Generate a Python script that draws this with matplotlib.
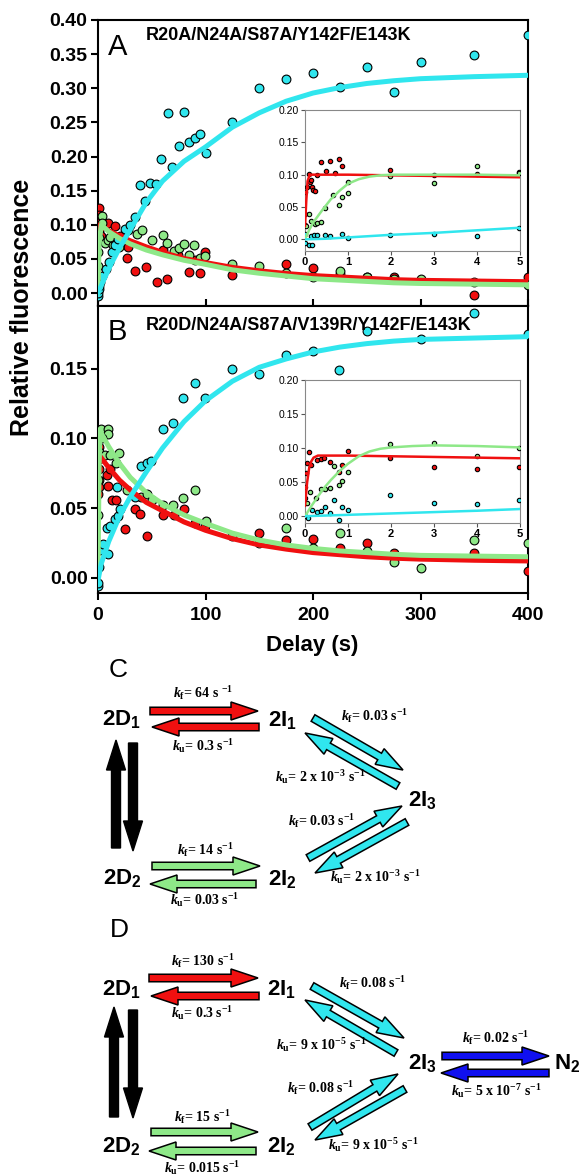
import matplotlib
matplotlib.use("Agg")
import matplotlib.pyplot as plt
from matplotlib.patches import FancyArrow

plt.rcParams['font.family'] = ['Liberation Sans', 'DejaVu Sans']
plt.rcParams['mathtext.fontset'] = 'custom'
plt.rcParams['mathtext.it'] = 'Liberation Serif:italic:bold'
plt.rcParams['mathtext.rm'] = 'Liberation Serif:bold'
plt.rcParams['mathtext.bf'] = 'Liberation Serif:bold'
plt.rcParams['mathtext.sf'] = 'Liberation Sans:bold'

RED = '#f01010'
GREEN = '#8ee888'
CYAN = '#30e6ee'
BLUE = '#1010f0'

# ---------------- panel A (R20A/N24A/S87A/Y142F/E143K) ----------------
a_cyan_x = [0, 0, 0.5, 1, 2, 4, 7, 10, 13, 16, 19, 25, 30, 34, 39, 44, 48, 54, 59, 65, 69, 75,
            80, 85, 90, 95, 100, 125, 150, 175, 200, 225, 250, 275, 300, 350, 400]
a_cyan_y = [-0.005, 0.0, 0.006, 0.010, 0.016, 0.025, 0.035, 0.045, 0.060, 0.070, 0.079, 0.094,
            0.099, 0.112, 0.158, 0.135, 0.161, 0.160, 0.197, 0.264, 0.184, 0.215, 0.265, 0.221,
            0.227, 0.233, 0.205, 0.251, 0.300, 0.314, 0.323, 0.302, 0.331, 0.294, 0.339, 0.348, 0.378]
a_red_x = [0.5, 1, 0, 0.5, 0, 1.5, 3, 9.6, 15.8, 20.5, 22, 26.7, 28.2, 34.4, 44.3, 54.6, 64.5, 60.8,
           74.7, 85, 90.2, 95.2, 99.5, 124.3, 174.5, 200, 225, 250, 275, 350, 400]
a_red_y = [0.125, 0.115, 0.103, 0.088, 0.078, 0.095, 0.083, 0.103, 0.098, 0.083, 0.073, 0.051, 0.068,
           0.032, 0.038, 0.016, 0.021, 0.063, 0.056, 0.031, 0.049, 0.030, 0.060, 0.027, 0.043,
           0.037, 0.028, 0.024, 0.023, -0.003, 0.024]
a_green_x = [0, 0, 0, 0.5, 4, 3.4, 6.5, 9, 14.3, 15.8, 11, 20, 28.2, 36, 40.6, 50, 60.8, 64.5, 70.4,
             75.3, 80.3, 85, 89.3, 94.9, 99.5, 124.3, 149.7, 174.5, 200, 225, 250, 275, 300, 350, 400]
a_green_y = [0.02, 0.04, 0.06, 0.08, 0.113, 0.103, 0.073, 0.078, 0.071, 0.078, 0.082, 0.068, 0.093,
             0.087, 0.092, 0.077, 0.085, 0.073, 0.061, 0.066, 0.072, 0.055, 0.071, 0.051, 0.054,
             0.043, 0.039, 0.029, 0.024, 0.033, 0.023, 0.021, 0.021, 0.016, 0.012]

a_fit_red_x = [0, 1, 3, 10, 20, 30, 45, 60, 80, 100, 125, 150, 175, 200, 225, 250, 275, 300, 350, 400]
a_fit_red_y = [0.02, 0.100, 0.099, 0.092, 0.084, 0.077, 0.068, 0.060, 0.051, 0.045, 0.038, 0.033,
               0.029, 0.026, 0.024, 0.022, 0.020, 0.019, 0.018, 0.017]
a_fit_green_x = [0, 1, 3, 10, 20, 30, 45, 60, 80, 100, 125, 150, 175, 200, 225, 250, 275, 300, 350, 400]
a_fit_green_y = [0, 0.07, 0.100, 0.090, 0.080, 0.072, 0.063, 0.056, 0.048, 0.042, 0.034, 0.029,
                 0.025, 0.021, 0.019, 0.017, 0.015, 0.014, 0.013, 0.012]
a_fit_cyan_x = [0, 5, 12, 20, 30, 45, 60, 80, 100, 125, 150, 175, 200, 225, 250, 275, 300, 350, 400]
a_fit_cyan_y = [0.0, 0.018, 0.042, 0.066, 0.093, 0.133, 0.164, 0.193, 0.214, 0.243, 0.264, 0.281,
                0.293, 0.301, 0.307, 0.311, 0.314, 0.317, 0.319]

# inset A (0-5 s)
ia_red_x = [0, 0, 0, 0.05, 0.09, 0.12, 0.14, 0.16, 0.19, 0.23, 0.29, 0.38, 0.48, 0.58, 0.69, 0.78,
            0.87, 1.98, 2.99, 3.99, 4.98]
ia_red_y = [0.022, 0.039, 0.0725, 0.081, 0.101, 0.088, 0.092, 0.081, 0.076, 0.074, 0.0995, 0.120,
            0.105, 0.121, 0.102, 0.124, 0.114, 0.108, 0.099, 0.101, 0.1036]
ia_green_x = [0.02, 0.09, 0.13, 0.23, 0.29, 0.37, 0.47, 0.64, 0.78, 0.87, 0.99, 0.99, 1.98, 2.99,
              3.99, 4.98]
ia_green_y = [0.021, 0.039, 0.0285, 0.024, 0.026, 0.027, 0.048, 0.068, 0.053, 0.066, 0.071, 0.088,
              0.098, 0.0865, 0.114, 0.102]
ia_cyan_x = [0, 0, 0.09, 0.17, 0.13, 0.2, 0.29, 0.47, 0.58, 0.87, 0.99, 1.98, 2.99, 3.99, 4.98]
ia_cyan_y = [0.008, -0.005, -0.008, -0.009, 0.005, 0.007, 0.006, 0.0067, 0.0057, 0.0088, 0.0026,
             0.0067, 0.0088, 0.0047, 0.018]
ia_fit_red_x = [0, 0.03, 0.06, 0.1, 0.15, 0.3, 1, 2, 3, 4, 5]
ia_fit_red_y = [0.02, 0.06, 0.09, 0.098, 0.100, 0.100, 0.100, 0.099, 0.098, 0.097, 0.096]
ia_fit_green_x = [0, 0.1, 0.2, 0.4, 0.6, 0.8, 1.0, 1.25, 1.5, 1.75, 2, 3, 4, 5]
ia_fit_green_y = [0, 0.015, 0.027, 0.045, 0.062, 0.075, 0.086, 0.093, 0.097, 0.099, 0.100, 0.100,
                  0.100, 0.099]
ia_fit_cyan_x = [0, 0.5, 1, 2, 3, 4, 5]
ia_fit_cyan_y = [0.0, 0.001, 0.003, 0.007, 0.010, 0.014, 0.018]

# ---------------- panel B (R20D/N24A/S87A/V139R/Y142F/E143K) ----------------
b_cyan_x = [0, 0, 0.5, 1.9, 5, 9.6, 8, 11.2, 15.8, 18.9, 20.5, 17.4, 34.4, 40, 45.3, 49.6, 60, 69.4,
            79.5, 90, 99.6, 124.6, 149.6, 175, 200, 224.6, 250, 300, 350, 400]
b_cyan_y = [-0.006, -0.004, 0.008, 0.020, 0.024, 0.017, 0.036, 0.037, 0.042, 0.044, 0.049, 0.065,
            0.058, 0.080, 0.082, 0.084, 0.107, 0.111, 0.129, 0.140, 0.129, 0.150, 0.146, 0.160,
            0.163, 0.149, 0.177, 0.171, 0.190, 0.175]
b_red_x = [0.5, 0.5, 0.5, 0.5, 0.5, 0, 8, 8.9, 12.7, 16.4, 11, 25, 34.4, 39, 45.3, 60.8, 70.7, 80.3,
           90.2, 99.5, 149.7, 174.8, 200, 225, 250, 275, 350, 400]
b_red_y = [0.094, 0.085, 0.078, 0.070, 0.065, 0.060, 0.074, 0.066, 0.056, 0.056, 0.078, 0.035, 0.049,
           0.046, 0.030, 0.045, 0.045, 0.049, 0.039, 0.037, 0.032, 0.027, 0.028, 0.021, 0.025,
           0.018, 0.018, 0.005]
b_green_x = [0, 0, 0, 0.5, 2.8, 9, 9.6, 4, 6.5, 11.2, 19.5, 16.4, 26.7, 40, 45.3, 50, 60.8, 70, 79.4,
             90.2, 100.4, 124.3, 149.7, 174.8, 200, 225, 250, 275, 300, 350, 400]
b_green_y = [0.02, 0.045, 0.07, 0.09, 0.107, 0.107, 0.103, 0.100, 0.088, 0.088, 0.0895, 0.082, 0.063,
             0.058, 0.060, 0.056, 0.052, 0.052, 0.057, 0.063, 0.041, 0.030, 0.025, 0.036, 0.021,
             0.032, 0.019, 0.011, 0.007, 0.027, 0.025]

b_fit_red_x = [0, 1, 10, 20, 30, 45, 60, 80, 100, 125, 150, 175, 200, 225, 250, 275, 300, 350, 400]
b_fit_red_y = [0.06, 0.088, 0.079, 0.070, 0.063, 0.054, 0.048, 0.040, 0.034, 0.028, 0.0235, 0.0205,
               0.018, 0.0165, 0.015, 0.014, 0.0133, 0.0125, 0.012]
b_fit_green_x = [0, 1, 2, 10, 20, 30, 45, 60, 80, 100, 125, 150, 175, 200, 225, 250, 275, 300, 350, 400]
b_fit_green_y = [0, 0.08, 0.105, 0.094, 0.082, 0.072, 0.061, 0.053, 0.045, 0.039, 0.032, 0.027,
                 0.0235, 0.021, 0.0192, 0.018, 0.0168, 0.016, 0.0155, 0.015]
b_fit_cyan_x = [0, 3, 10, 20, 30, 45, 60, 80, 100, 125, 150, 175, 200, 225, 250, 275, 300, 350, 400]
b_fit_cyan_y = [-0.002, 0.010, 0.026, 0.044, 0.058, 0.076, 0.093, 0.112, 0.127, 0.141, 0.151, 0.157,
                0.162, 0.1655, 0.168, 0.1698, 0.171, 0.172, 0.173]

# inset B (0-5 s)
ib_red_x = [0.09, 0.02, 0.05, 0.13, 0, 0, 0, 0.29, 0.37, 0.44, 0.58, 0.78, 0.87, 0.99, 1.98, 2.99,
            3.99, 4.98]
ib_red_y = [0.094, 0.063, 0.078, 0.075, 0.0435, 0.026, 0.019, 0.0826, 0.0836, 0.085, 0.079, 0.0645,
            0.0758, 0.0963, 0.0856, 0.0729, 0.070, 0.0729]
ib_green_x = [0.05, 0.11, 0.26, 0.37, 0.47, 0.58, 0.68, 0.78, 0.87, 0.99, 1.98, 2.99, 3.99, 4.98]
ib_green_y = [0.019, 0.036, 0.0274, 0.0396, 0.040, 0.041, 0.073, 0.046, 0.052, 0.0645, 0.106, 0.107,
              0.0885, 0.0998]
ib_cyan_x = [0, 0.08, 0.17, 0.29, 0.38, 0.47, 0.58, 0.68, 0.78, 0.87, 0.99, 1.98, 2.99, 3.99, 4.98]
ib_cyan_y = [0.0, -0.003, 0.0093, 0.0068, 0.0083, 0.0132, 0.0054, 0.024, -0.0054, 0.014, 0.0093,
             0.0313, 0.020, 0.018, 0.024]
ib_fit_red_x = [0, 0.05, 0.1, 0.15, 0.2, 0.3, 0.5, 1, 2, 3, 4, 5]
ib_fit_red_y = [0.015, 0.05, 0.072, 0.081, 0.086, 0.089, 0.089, 0.089, 0.088, 0.087, 0.086, 0.085]
ib_fit_green_x = [0, 0.15, 0.3, 0.45, 0.6, 0.8, 1, 1.25, 1.5, 1.75, 2, 2.5, 3, 4, 5]
ib_fit_green_y = [0, 0.015, 0.029, 0.042, 0.053, 0.066, 0.077, 0.088, 0.095, 0.099, 0.101, 0.103,
                  0.104, 0.103, 0.101]
ib_fit_cyan_x = [0, 0.5, 1, 2, 3, 4, 5]
ib_fit_cyan_y = [0.0, 0.001, 0.002, 0.004, 0.006, 0.008, 0.0105]

# ---------------- kinetic schemes ----------------
c_rates = [r'$k_\mathrm{f}$= 64 s $^{-1}$', r'$k_\mathrm{u}$= 0.3 s$^{-1}$',
           r'$k_\mathrm{f}$= 0.03 s$^{-1}$', r'$k_\mathrm{u}$= 2 x 10$^{-3}$ s$^{-1}$',
           r'$k_\mathrm{f}$= 0.03 s$^{-1}$', r'$k_\mathrm{u}$= 2 x 10$^{-3}$ s$^{-1}$',
           r'$k_\mathrm{f}$= 14 s$^{-1}$', r'$k_\mathrm{u}$= 0.03 s$^{-1}$']
d_rates = [r'$k_\mathrm{f}$= 130 s$^{-1}$', r'$k_\mathrm{u}$= 0.3 s$^{-1}$',
           r'$k_\mathrm{f}$= 0.08 s$^{-1}$', r'$k_\mathrm{u}$= 9 x 10$^{-5}$ s$^{-1}$',
           r'$k_\mathrm{f}$= 0.08 s$^{-1}$', r'$k_\mathrm{u}$= 9 x 10$^{-5}$ s$^{-1}$',
           r'$k_\mathrm{f}$= 15 s$^{-1}$', r'$k_\mathrm{u}$= 0.015 s$^{-1}$',
           r'$k_\mathrm{f}$= 0.02 s$^{-1}$', r'$k_\mathrm{u}$= 5 x 10$^{-7}$ s$^{-1}$']
c_species = [r'2D$_\mathsf{1}$', r'2I$_\mathsf{1}$', r'2I$_\mathsf{3}$', r'2D$_\mathsf{2}$', r'2I$_\mathsf{2}$']
d_species = [r'2D$_\mathsf{1}$', r'2I$_\mathsf{1}$', r'2I$_\mathsf{3}$', r'N$_\mathsf{2}$',
             r'2D$_\mathsf{2}$', r'2I$_\mathsf{2}$']

W, H = 585, 1175
fig = plt.figure(figsize=(W / 100, H / 100), dpi=100)


def fr(l, t, r, b):
    return [l / W, 1 - b / H, (r - l) / W, (b - t) / H]


def main_axes(rect, ylim, yticks):
    ax = fig.add_axes(rect)
    ax.set_xlim(0, 400)
    ax.set_ylim(*ylim)
    ax.set_yticks(yticks)
    ax.set_yticklabels(['%.2f' % v for v in yticks], fontsize=14, fontweight='bold')
    ax.set_xticks([0, 100, 200, 300, 400])
    for s in ax.spines.values():
        s.set_linewidth(1.5)
    ax.tick_params(width=1.5, length=5, pad=2.5)
    return ax


def inset_axes(rect, ylim):
    ax = fig.add_axes(rect)
    ax.set_xlim(0, 5)
    ax.set_ylim(*ylim)
    ax.set_yticks([0, 0.05, 0.1, 0.15, 0.2])
    ax.set_yticklabels(['0.00', '0.05', '0.10', '0.15', '0.20'], fontsize=7.5)
    ax.set_xticks([0, 1, 2, 3, 4, 5])
    ax.set_xticklabels(['0', '1', '2', '3', '4', '5'], fontsize=8, fontweight='bold')
    for s in ax.spines.values():
        s.set_linewidth(0.8)
        s.set_color('#888888')
    ax.tick_params(width=0.8, length=3, pad=1.5, color='#555555')
    return ax


def pts(ax, x, y, c, s):
    ax.scatter(x, y, s=s, c=c, edgecolors='black', linewidths=0.8, zorder=3)


def fit(ax, x, y, c, lw):
    ax.plot(x, y, color=c, lw=lw, solid_capstyle='round', solid_joinstyle='round', zorder=4)


# panel A
axA = main_axes(fr(98, 20, 528, 306), (-0.019, 0.40),
                [0, 0.05, 0.10, 0.15, 0.20, 0.25, 0.30, 0.35, 0.40])
axA.tick_params(axis='x', direction='in', labelbottom=False)
pts(axA, a_red_x, a_red_y, RED, 40)
pts(axA, a_green_x, a_green_y, GREEN, 40)
pts(axA, a_cyan_x, a_cyan_y, CYAN, 40)
fit(axA, a_fit_red_x, a_fit_red_y, RED, 3.2)
fit(axA, a_fit_green_x, a_fit_green_y, GREEN, 3.6)
fit(axA, a_fit_cyan_x, a_fit_cyan_y, CYAN, 3.6)

iA = inset_axes(fr(305, 110, 520, 251), (-0.018, 0.20))
pts(iA, ia_red_x, ia_red_y, RED, 10)
pts(iA, ia_green_x, ia_green_y, GREEN, 10)
pts(iA, ia_cyan_x, ia_cyan_y, CYAN, 10)
fit(iA, ia_fit_red_x, ia_fit_red_y, RED, 1.8)
fit(iA, ia_fit_green_x, ia_fit_green_y, GREEN, 1.8)
fit(iA, ia_fit_cyan_x, ia_fit_cyan_y, CYAN, 1.8)

# panel B
axB = main_axes(fr(98, 306, 528, 593), (-0.011, 0.195), [0, 0.05, 0.10, 0.15])
axB.set_xticklabels(['0', '100', '200', '300', '400'], fontsize=14, fontweight='bold')
axB.tick_params(axis='x', pad=5)
pts(axB, b_red_x, b_red_y, RED, 40)
pts(axB, b_green_x, b_green_y, GREEN, 40)
pts(axB, b_cyan_x, b_cyan_y, CYAN, 40)
fit(axB, b_fit_red_x, b_fit_red_y, RED, 3.6)
fit(axB, b_fit_green_x, b_fit_green_y, GREEN, 3.6)
fit(axB, b_fit_cyan_x, b_fit_cyan_y, CYAN, 3.6)

iB = inset_axes(fr(305, 380, 520, 523), (-0.010, 0.20))
pts(iB, ib_red_x, ib_red_y, RED, 10)
pts(iB, ib_green_x, ib_green_y, GREEN, 10)
pts(iB, ib_cyan_x, ib_cyan_y, CYAN, 10)
fit(iB, ib_fit_red_x, ib_fit_red_y, RED, 1.8)
fit(iB, ib_fit_green_x, ib_fit_green_y, GREEN, 1.8)
fit(iB, ib_fit_cyan_x, ib_fit_cyan_y, CYAN, 1.8)

# overlay in pixel coordinates for the schemes and free labels (on top of everything)
ov = fig.add_axes([0, 0, 1, 1])
ov.set_xlim(0, W)
ov.set_ylim(H, 0)
ov.axis('off')
ov.set_zorder(10)

ov.text(118, 47, 'A', fontsize=21, ha='center', va='center')
ov.text(117, 332, 'B', fontsize=21, ha='center', va='center')
ov.text(146, 36, 'R20A/N24A/S87A/Y142F/E143K', fontsize=13, fontweight='bold', va='center')
ov.text(146, 326, 'R20D/N24A/S87A/V139R/Y142F/E143K', fontsize=13, fontweight='bold', va='center')
ov.text(22, 307, 'Relative fluorescence', fontsize=18, fontweight='bold', rotation=90,
        ha='center', va='center')
ov.text(312, 645, 'Delay (s)', fontsize=16, fontweight='bold', ha='center', va='center')
ov.text(118, 670, 'C', fontsize=19, ha='center', va='center')
ov.text(119, 930, 'D', fontsize=19, ha='center', va='center')


def arrow(p0, p1, color, shaft=7.5, head=18, hl=27):
    ov.add_patch(FancyArrow(p0[0], p0[1], p1[0] - p0[0], p1[1] - p0[1], width=shaft,
                            head_width=head, head_length=hl, length_includes_head=True,
                            fc=color, ec='black', lw=1.1))


def black_arrow(p0, p1):
    ov.add_patch(FancyArrow(p0[0], p0[1], p1[0] - p0[0], p1[1] - p0[1], width=9,
                            head_width=19, head_length=30, length_includes_head=True,
                            fc='black', ec='black', lw=1))


# scheme C
arrow((150, 711), (258, 711), RED)
arrow((259, 727), (152, 727), RED)
arrow((313, 718), (403, 770), CYAN)
arrow((398, 786), (305, 733), CYAN)
arrow((308, 858), (402, 806), CYAN)
arrow((407, 822), (315, 873), CYAN)
arrow((152, 866), (260, 866), GREEN)
arrow((256, 884), (150, 884), GREEN)
black_arrow((116, 848), (116, 740))
black_arrow((133, 743), (133, 851))

c_rate_pos = [(203, 693), (203, 746), (375, 716), (320, 777), (322, 821), (375, 877),
              (205, 850), (205, 900)]
for s, (x, y) in zip(c_rates, c_rate_pos):
    ov.text(x, y, s, fontsize=10, fontfamily='Liberation Serif', fontweight='bold',
            ha='center', va='center')
c_sp_pos = [(121, 719), (282, 720), (422, 800), (122, 878), (282, 879)]
for s, (x, y) in zip(c_species, c_sp_pos):
    ov.text(x, y, s, fontsize=16, fontweight='bold', ha='center', va='center')

# scheme D
arrow((149, 978), (258, 978), RED)
arrow((259, 996), (151, 996), RED)
arrow((312, 986), (404, 1038), CYAN)
arrow((396, 1053), (305, 1000), CYAN)
arrow((442, 1056), (549, 1056), BLUE)
arrow((549, 1073), (441, 1073), BLUE)
arrow((310, 1127), (398, 1074), CYAN)
arrow((405, 1089), (315, 1140), CYAN)
arrow((151, 1132), (258, 1132), GREEN)
arrow((256, 1151), (149, 1151), GREEN)
black_arrow((114, 1117), (114, 1007))
black_arrow((133, 1010), (133, 1118))

d_rate_pos = [(203, 961), (202, 1013), (373, 983), (321, 1045), (321, 1088), (373, 1145),
              (202, 1117), (202, 1168), (496, 1038), (496, 1091)]
for s, (x, y) in zip(d_rates, d_rate_pos):
    ov.text(x, y, s, fontsize=10, fontfamily='Liberation Serif', fontweight='bold',
            ha='center', va='center')
d_sp_pos = [(121, 989), (281, 989), (422, 1063), (567, 1063), (121, 1146), (281, 1146)]
for s, (x, y) in zip(d_species, d_sp_pos):
    ov.text(x, y, s, fontsize=16, fontweight='bold', ha='center', va='center')

fig.savefig('out.png', dpi=100)
